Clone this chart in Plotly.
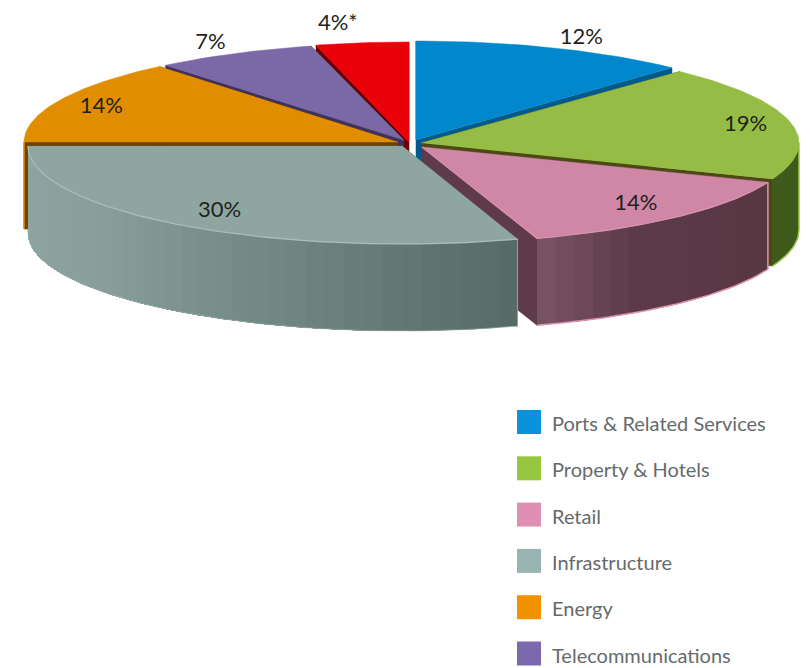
import math
import plotly.graph_objects as go

# ---- data ----
categories = ["Ports & Related Services", "Property & Hotels", "Retail", "Infrastructure",
              "Energy", "Telecommunications", "Others"]
shares = [12, 19, 14, 30, 14, 7, 4]
value_labels = ["12%", "19%", "14%", "30%", "14%", "7%", "4%*"]
legend_names = categories[:6]

# ---- style / projection ----
top_colors = ["#0087cc", "#95bd45", "#d087a6", "#8fa6a0", "#e08e00", "#7b68a6", "#ea0008"]
key_colors = ["#0a93dc", "#96c540", "#e08fb4", "#9ab5b1", "#f39200", "#7c68ae"]
face_colors = ["#005a8c", "#4b4a12", "#5f3a4b", "#5c6f6b", "#6b4200", "#40325c", "#6a0000"]
edge_colors = [None, "#9cc84a", "#dd93b2", "#9fb3ae", "#e08e00", None, None]
centers = [(416, 140), (421, 143), (422, 147), (402, 146), (398, 142), (404, 140), (409, 142)]
radii = [(374, 99), (378, 98), (372, 96), (374, 98), (374, 98), (374, 97), (374, 100)]
label_fit = [(1.20, 1.12), (0.88, 0.89), (0.84, 0.80), (0.83, 0.795), (0.877, 0.886), (1.14, 1.145), (1.52, 1.20)]
wall_stops = {
    1: ["#3f5a1c", "#3f5a1c"],
    2: ["#573742", "#5a3845", "#5c3a48", "#7a5566"],
    3: ["#566a66", "#6f8682", "#8a9f9b", "#8ea5a0"],
}
DEPTH = 87
draw_order = [6, 5, 0, 4, 1, 2, 3]
FONT = "Lato, Roboto, sans-serif"


def rgb(h):
    return [int(h[i:i + 2], 16) for i in (1, 3, 5)]


def ramp(stops, t):
    p = t * (len(stops) - 1)
    i = min(int(p), len(stops) - 2)
    a, b = rgb(stops[i]), rgb(stops[i + 1])
    return "rgb(%d,%d,%d)" % tuple(round(a[k] + (b[k] - a[k]) * (p - i)) for k in range(3))


def pt(i, deg, drop=0):
    r = math.radians(deg)
    return (centers[i][0] + radii[i][0] * math.sin(r), centers[i][1] - radii[i][1] * math.cos(r) + drop)


def arc(i, a0, a1, drop=0):
    n = max(2, int(abs(a1 - a0)) + 1)
    return [pt(i, a0 + (a1 - a0) * k / (n - 1), drop) for k in range(n)]


fig = go.Figure()


def poly(points, fill, width=0.5):
    xs = [p[0] for p in points]
    ys = [p[1] for p in points]
    fig.add_trace(go.Scatter(x=xs, y=ys, mode="lines", fill="toself", fillcolor=fill,
                             line=dict(color=fill, width=width),
                             hoverinfo="skip", showlegend=False))


def stroke(points, color, width=1.5):
    fig.add_trace(go.Scatter(x=[p[0] for p in points], y=[p[1] for p in points], mode="lines",
                             line=dict(color=color, width=width), hoverinfo="skip", showlegend=False))


total = sum(shares)
starts, acc = [], 0
for v in shares:
    starts.append(acc / total * 360)
    acc += v
ends = [s + v / total * 360 for s, v in zip(starts, shares)]

for i in draw_order:
    a0, a1 = starts[i], ends[i]
    c = centers[i]
    # radial faces
    for a in (a0, a1):
        p = pt(i, a)
        poly([c, p, (p[0], p[1] + DEPTH), (c[0], c[1] + DEPTH)], face_colors[i])
    # outer wall, front half only, in gradient strips that overlap the next one
    w0, w1 = max(a0, 90), min(a1, 270)
    if w1 > w0 and i in wall_stops:
        n = max(4, int((w1 - w0) / 3))
        for k in range(n):
            s0 = w0 + (w1 - w0) * k / n
            s1 = w1
            poly(arc(i, s0, s1) + arc(i, s1, s0, DEPTH), ramp(wall_stops[i], (k + 0.5) / n), width=0)
        stroke(arc(i, w0, w1, DEPTH), edge_colors[i], 1.5 if i != 3 else 0.6)
        p = pt(i, w0)
        stroke([p, (p[0], p[1] + DEPTH)], edge_colors[i], 1.5 if i != 3 else 0.8)
    # top surface
    poly([c] + arc(i, a0, a1), top_colors[i])
    if i == 3:
        stroke(arc(i, a0, a1), "#a9bdb8", 1.3)
    if i == 2:
        stroke(arc(i, a0, a1) + [c], edge_colors[i], 1.2)

# left end of the energy slice, orange rim
p = pt(4, 270)
stroke([p, (p[0], p[1] + DEPTH)], edge_colors[4], 1.5)

# value labels
lx, ly = [], []
for i in range(len(shares)):
    mid = math.radians((starts[i] + ends[i]) / 2)
    lx.append(centers[i][0] + radii[i][0] * math.sin(mid) * label_fit[i][0])
    ly.append(centers[i][1] - radii[i][1] * math.cos(mid) * label_fit[i][1] + 2)
fig.add_trace(go.Scatter(x=lx, y=ly, mode="text", text=value_labels, textposition="middle center",
                         textfont=dict(family=FONT, size=22, color="#231f20"),
                         hoverinfo="skip", showlegend=False))

# colour key
key_x = [529] * len(legend_names)
key_y = [422 + 46.3 * k for k in range(len(legend_names))]
fig.add_trace(go.Scatter(x=key_x, y=key_y, mode="markers",
                         marker=dict(symbol="square", size=24, color=key_colors, line=dict(width=0)),
                         hovertext=legend_names, hoverinfo="text", showlegend=False))
fig.add_trace(go.Scatter(x=[552] * len(legend_names), y=[y + 4 for y in key_y], mode="text", text=legend_names,
                         textposition="middle right",
                         textfont=dict(family=FONT, size=20, color="#666a6c"),
                         hoverinfo="skip", showlegend=False))

fig.update_layout(
    width=810, height=668, margin=dict(l=0, r=0, t=0, b=0),
    paper_bgcolor="white", plot_bgcolor="white", showlegend=False,
    xaxis=dict(range=[0, 810], visible=False, fixedrange=True),
    yaxis=dict(range=[668, 0], visible=False, fixedrange=True),
)
fig.write_html("out.html", config={"displayModeBar": False},
               post_script="document.body.style.margin='0';")
